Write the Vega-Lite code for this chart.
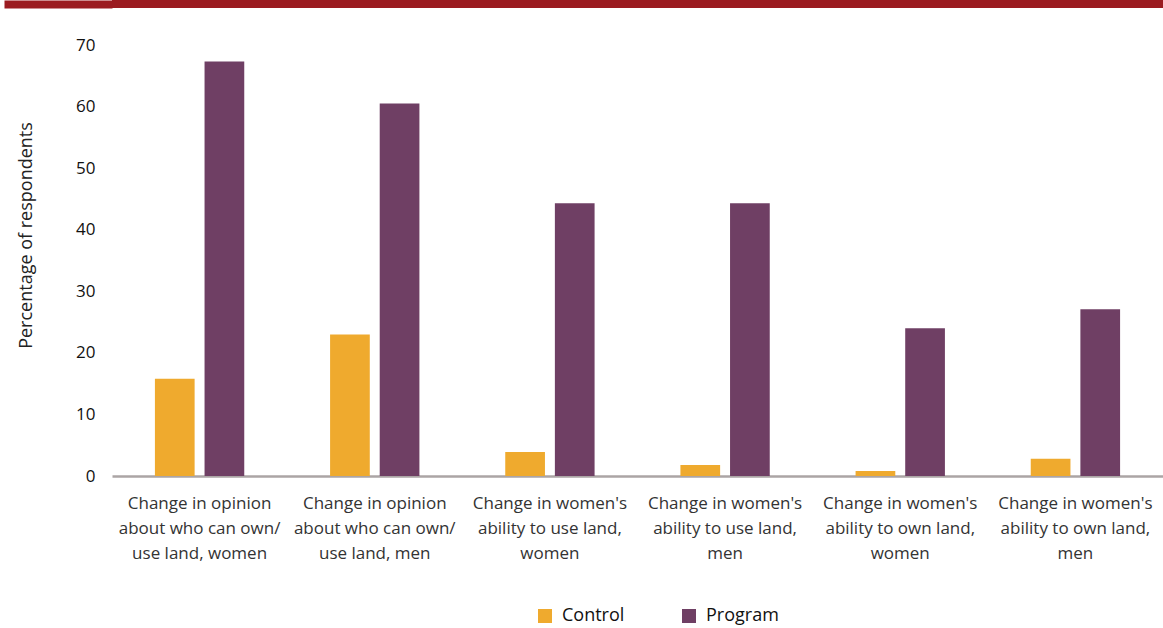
{
  "$schema": "https://vega.github.io/schema/vega-lite/v6.json",
  "padding": 0,
  "background": "white",
  "config": {"view": {"stroke": null}, "font": "Open Sans"},
  "spacing": 28,
  "vconcat": [
    {
      "width": 1051,
      "height": 8,
      "view": {"fill": "#9B1B20", "stroke": null},
      "data": {"values": [{"band": "top", "v": 0}]},
      "mark": {"type": "point", "opacity": 0},
      "encoding": {
        "y": {
          "field": "v", "type": "quantitative",
          "scale": {"domain": [-1, 1]},
          "axis": {
            "values": [0], "labels": false, "domain": false, "grid": false, "title": null,
            "ticks": true, "tickSize": 108, "tickWidth": 8, "tickColor": "#9B1B20", "tickCap": "butt"
          }
        }
      }
    },
    {
      "width": 1051,
      "height": 431,
      "data": {
        "values": [
          {"category": "Change in opinion|about who can own/|use land, women", "group": "Control", "value": 15.8},
          {"category": "Change in opinion|about who can own/|use land, women", "group": "Program", "value": 67.3},
          {"category": "Change in opinion|about who can own/|use land, men", "group": "Control", "value": 23.0},
          {"category": "Change in opinion|about who can own/|use land, men", "group": "Program", "value": 60.5},
          {"category": "Change in women's|ability to use land,|women", "group": "Control", "value": 3.9},
          {"category": "Change in women's|ability to use land,|women", "group": "Program", "value": 44.3},
          {"category": "Change in women's|ability to use land,|men", "group": "Control", "value": 1.8},
          {"category": "Change in women's|ability to use land,|men", "group": "Program", "value": 44.3},
          {"category": "Change in women's|ability to own land,|women", "group": "Control", "value": 0.8},
          {"category": "Change in women's|ability to own land,|women", "group": "Program", "value": 24.0},
          {"category": "Change in women's|ability to own land,|men", "group": "Control", "value": 2.8},
          {"category": "Change in women's|ability to own land,|men", "group": "Program", "value": 27.1}
        ]
      },
      "mark": {"type": "bar"},
      "encoding": {
        "x": {
          "field": "category", "type": "nominal", "sort": null,
          "scale": {"paddingInner": 0.49, "paddingOuter": 0.245},
          "axis": {
            "title": null, "labelAngle": 0, "ticks": false,
            "domainColor": "#ABA5A5", "domainWidth": 2.5,
            "labelExpr": "split(datum.label, '|')",
            "labelFontSize": 17, "labelColor": "#333333", "labelLineHeight": 25,
            "labelPadding": 19, "labelLimit": 300, "labelBaseline": "top"
          }
        },
        "xOffset": {
          "field": "group", "type": "nominal", "sort": ["Control", "Program"],
          "scale": {"paddingInner": 0.2, "paddingOuter": 0}
        },
        "y": {
          "field": "value", "type": "quantitative",
          "scale": {"domain": [0, 70], "nice": false},
          "axis": {
            "values": [0, 10, 20, 30, 40, 50, 60, 70],
            "grid": false, "domain": false, "ticks": false,
            "labelFontSize": 17, "labelColor": "#111111", "labelPadding": 17,
            "title": "Percentage  of respondents", "titleFontSize": 18,
            "titleFontWeight": "normal", "titleColor": "#222222", "titlePadding": 40,
            "titleY": 190
          }
        },
        "color": {
          "field": "group", "type": "nominal",
          "scale": {"domain": ["Control", "Program"], "range": ["#EFAA2E", "#6F3F64"]},
          "legend": {
            "title": null, "orient": "none", "direction": "horizontal",
            "legendX": 424, "legendY": 607,
            "symbolType": "square", "symbolSize": 196, "symbolStrokeWidth": 0,
            "labelFontSize": 18, "labelColor": "#111111", "columnPadding": 55,
            "labelOffset": 8
          }
        }
      }
    }
  ]
}
